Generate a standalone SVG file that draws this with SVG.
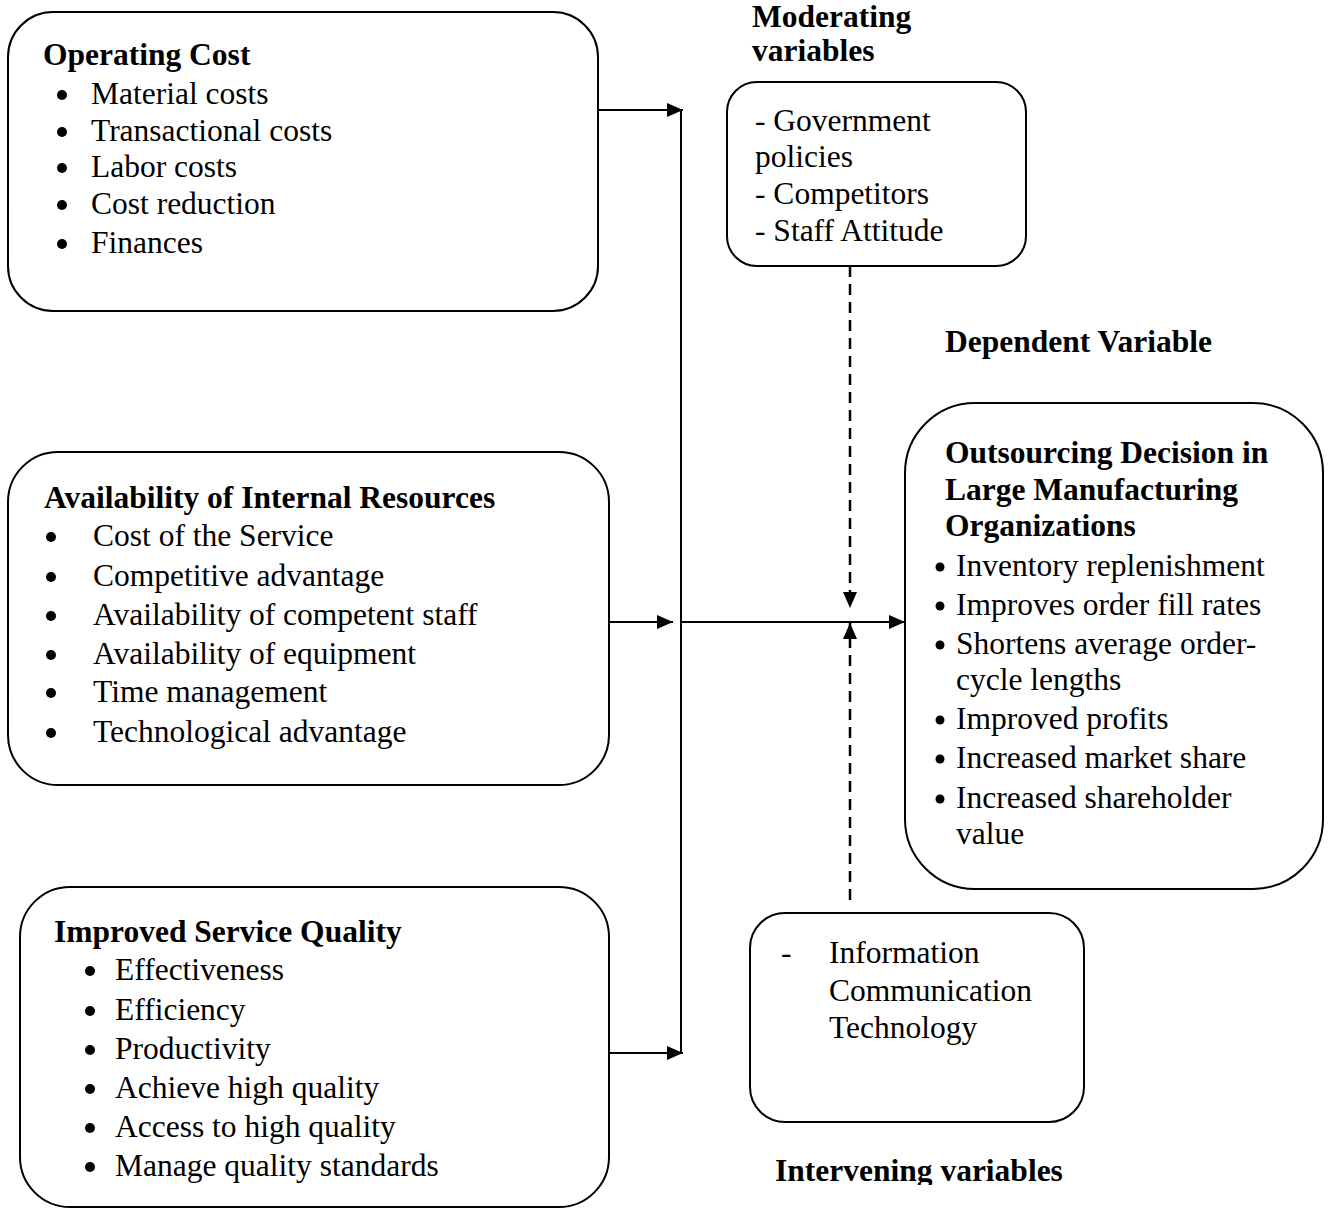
<svg xmlns="http://www.w3.org/2000/svg" width="1331" height="1210" viewBox="0 0 1331 1210">
<style>
.box{fill:#fff;stroke:#000;stroke-width:2}
.t{font-family:"Liberation Serif","Times New Roman",serif;font-size:31.5px;fill:#000}
.b{font-weight:bold}
.ln{stroke:#000;stroke-width:2;fill:none}
.dash{stroke:#000;stroke-width:2.5;fill:none;stroke-dasharray:11 7}
.dot{fill:#000}
</style>
<defs>
<marker id="ah" viewBox="0 0 16 14" refX="16" refY="7" markerWidth="16" markerHeight="14" markerUnits="userSpaceOnUse" orient="auto">
<path d="M0,0 L16,7 L0,14 Z" fill="#000"/>
</marker>
<clipPath id="clipIV"><rect x="700" y="1140" width="420" height="45"/></clipPath>
</defs>
<rect width="1331" height="1210" fill="#fff"/>

<g id="operating-cost">
<rect class="box" x="8" y="12" width="590" height="299" rx="45"/>
<text class="t b" x="43" y="65">Operating Cost</text>
<circle class="dot" cx="62" cy="95" r="5"/><text class="t" x="91" y="104">Material costs</text>
<circle class="dot" cx="62" cy="132" r="5"/><text class="t" x="91" y="141">Transactional costs</text>
<circle class="dot" cx="62" cy="168" r="5"/><text class="t" x="91" y="177">Labor costs</text>
<circle class="dot" cx="62" cy="205" r="5"/><text class="t" x="91" y="214">Cost reduction</text>
<circle class="dot" cx="62" cy="244" r="5"/><text class="t" x="91" y="253">Finances</text>
</g>

<g id="internal-resources">
<rect class="box" x="8" y="452" width="601" height="333" rx="50"/>
<text class="t b" x="44" y="508">Availability of Internal Resources</text>
<circle class="dot" cx="51" cy="537" r="5"/><text class="t" x="93" y="546">Cost of the Service</text>
<circle class="dot" cx="51" cy="577" r="5"/><text class="t" x="93" y="586">Competitive advantage</text>
<circle class="dot" cx="51" cy="616" r="5"/><text class="t" x="93" y="625">Availability of competent staff</text>
<circle class="dot" cx="51" cy="655" r="5"/><text class="t" x="93" y="664">Availability of equipment</text>
<circle class="dot" cx="51" cy="693" r="5"/><text class="t" x="93" y="702">Time management</text>
<circle class="dot" cx="51" cy="733" r="5"/><text class="t" x="93" y="742">Technological advantage</text>
</g>

<g id="service-quality">
<rect class="box" x="20" y="887" width="589" height="320" rx="50"/>
<text class="t b" x="54" y="942">Improved Service Quality</text>
<circle class="dot" cx="90" cy="971" r="5"/><text class="t" x="115" y="980">Effectiveness</text>
<circle class="dot" cx="90" cy="1011" r="5"/><text class="t" x="115" y="1020">Efficiency</text>
<circle class="dot" cx="90" cy="1050" r="5"/><text class="t" x="115" y="1059">Productivity</text>
<circle class="dot" cx="90" cy="1089" r="5"/><text class="t" x="115" y="1098">Achieve high quality</text>
<circle class="dot" cx="90" cy="1128" r="5"/><text class="t" x="115" y="1137">Access to high quality</text>
<circle class="dot" cx="90" cy="1167" r="5"/><text class="t" x="115" y="1176">Manage quality standards</text>
</g>

<g id="moderating">
<text class="t b" x="752" y="27">Moderating</text>
<text class="t b" x="752" y="61">variables</text>
<rect class="box" x="727" y="82" width="299" height="184" rx="30"/>
<text class="t" x="755" y="131">- Government</text>
<text class="t" x="755" y="167">policies</text>
<text class="t" x="755" y="204">- Competitors</text>
<text class="t" x="755" y="241">- Staff Attitude</text>
</g>

<g id="dependent">
<text class="t b" x="945" y="352">Dependent Variable</text>
<rect class="box" x="905" y="403" width="418" height="486" rx="70"/>
<text class="t b" x="945" y="463">Outsourcing Decision in</text>
<text class="t b" x="945" y="500">Large Manufacturing</text>
<text class="t b" x="945" y="536">Organizations</text>
<circle class="dot" cx="940" cy="567" r="4.5"/><text class="t" x="956" y="576">Inventory replenishment</text>
<circle class="dot" cx="940" cy="606" r="4.5"/><text class="t" x="956" y="615">Improves order fill rates</text>
<circle class="dot" cx="940" cy="645" r="4.5"/><text class="t" x="956" y="654">Shortens average order-</text>
<text class="t" x="956" y="690">cycle lengths</text>
<circle class="dot" cx="940" cy="720" r="4.5"/><text class="t" x="956" y="729">Improved profits</text>
<circle class="dot" cx="940" cy="759" r="4.5"/><text class="t" x="956" y="768">Increased market share</text>
<circle class="dot" cx="940" cy="799" r="4.5"/><text class="t" x="956" y="808">Increased shareholder</text>
<text class="t" x="956" y="844">value</text>
</g>

<g id="intervening">
<rect class="box" x="750" y="913" width="334" height="209" rx="35"/>
<text class="t" x="781" y="963">-</text>
<text class="t" x="829" y="963">Information</text>
<text class="t" x="829" y="1001">Communication</text>
<text class="t" x="829" y="1038">Technology</text>
<text class="t b" x="775" y="1181" clip-path="url(#clipIV)">Intervening variables</text>
</g>

<g id="connectors">
<line class="ln" x1="598" y1="110" x2="683" y2="110" marker-end="url(#ah)"/>
<line class="ln" x1="681" y1="110" x2="681" y2="1053"/>
<line class="ln" x1="609" y1="622" x2="673" y2="622" marker-end="url(#ah)"/>
<line class="ln" x1="681" y1="622" x2="905" y2="622" marker-end="url(#ah)"/>
<line class="ln" x1="610" y1="1053" x2="683" y2="1053" marker-end="url(#ah)"/>
<line class="dash" x1="850" y1="266" x2="850" y2="608" marker-end="url(#ah)"/>
<line class="dash" x1="850" y1="900" x2="850" y2="623" marker-end="url(#ah)"/>
</g>
</svg>
